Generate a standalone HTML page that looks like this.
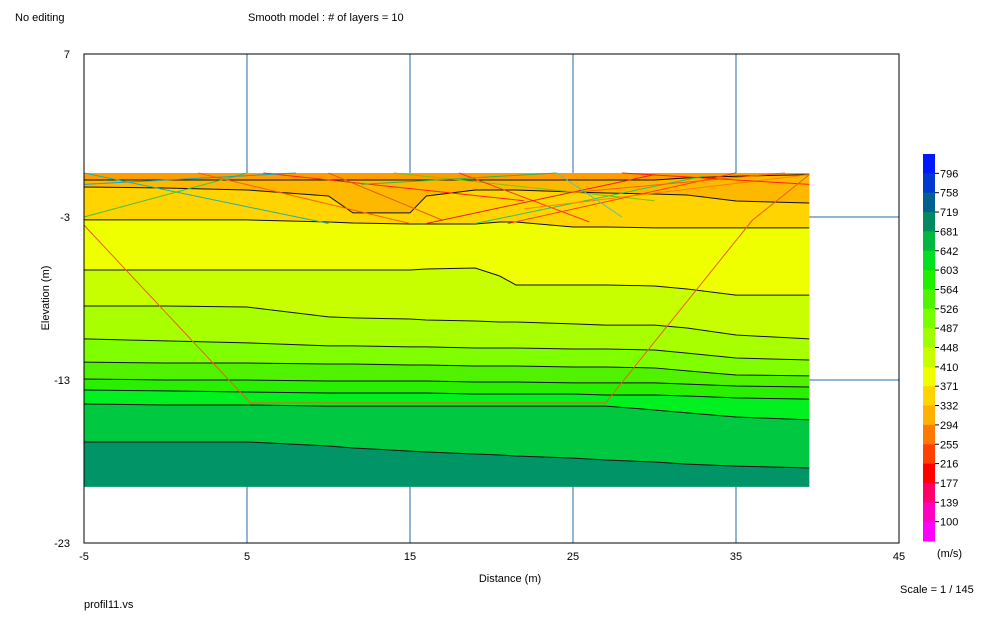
<!DOCTYPE html>
<html><head><meta charset="utf-8"><style>
body{margin:0;background:#fff;width:1003px;height:618px;overflow:hidden;font-family:"Liberation Sans",sans-serif}
svg text{font-family:"Liberation Sans",sans-serif;font-size:11px;fill:#000}
</style></head><body>
<svg id="c" width="1003" height="618" xmlns="http://www.w3.org/2000/svg"></svg>
<script>
const xs=[-5,0,5,10,11.5,15,16,19,20.5,21.5,25,27,30,32,35,39.5];
const boundaries=[
[-0.3,-0.3,-0.3,-0.3,-0.3,-0.3,-0.3,-0.3,-0.3,-0.3,-0.3,-0.3,-0.3,-0.3,-0.3,-0.3],
[-0.73,-0.73,-0.73,-0.73,-0.73,-0.73,-0.73,-0.73,-0.73,-0.73,-0.73,-0.73,-0.73,-0.6,-0.5,-0.4],
[-1.16,-1.22,-1.34,-1.71,-2.75,-2.75,-1.71,-1.34,-1.34,-1.34,-1.47,-1.53,-1.59,-1.65,-2.02,-2.14],
[-3.18,-3.18,-3.18,-3.31,-3.37,-3.43,-3.43,-3.43,-3.31,-3.31,-3.61,-3.61,-3.67,-3.67,-3.67,-3.67],
[-6.25,-6.25,-6.25,-6.25,-6.25,-6.25,-6.19,-6.13,-6.62,-7.17,-7.17,-7.17,-7.23,-7.42,-7.79,-7.79],
[-8.46,-8.46,-8.52,-9.13,-9.19,-9.26,-9.32,-9.38,-9.44,-9.44,-9.56,-9.63,-9.63,-9.81,-10.24,-10.48],
[-10.48,-10.60,-10.72,-10.91,-10.91,-10.97,-10.97,-11.04,-11.04,-11.04,-11.10,-11.10,-11.16,-11.35,-11.65,-11.77],
[-11.90,-11.96,-11.96,-12.02,-12.02,-12.08,-12.08,-12.14,-12.14,-12.14,-12.20,-12.20,-12.26,-12.44,-12.69,-12.75],
[-12.94,-13.0,-13.0,-13.06,-13.06,-13.06,-13.06,-13.12,-13.12,-13.12,-13.18,-13.18,-13.18,-13.25,-13.37,-13.43],
[-13.61,-13.67,-13.74,-13.80,-13.80,-13.80,-13.80,-13.86,-13.86,-13.86,-13.86,-13.92,-13.92,-13.98,-14.10,-14.17],
[-14.47,-14.53,-14.53,-14.60,-14.60,-14.60,-14.60,-14.60,-14.60,-14.60,-14.60,-14.60,-14.84,-15.02,-15.27,-15.45],
[-16.80,-16.80,-16.80,-17.05,-17.17,-17.36,-17.42,-17.54,-17.60,-17.66,-17.79,-17.91,-18.03,-18.16,-18.28,-18.40],
[-19.56,-19.56,-19.56,-19.56,-19.56,-19.56,-19.56,-19.56,-19.56,-19.56,-19.56,-19.56,-19.56,-19.56,-19.56,-19.56]];
const bandColors=["#ff9c00","#ffb800","#ffd400","#f0ff00","#c8ff00","#a8ff00","#80ff00","#50f200","#28f000","#00f020","#00c840","#009466"];
const envX=[-5,5.2,27,36,39.5];
const envY=[-3.5,-14.4,-14.4,-3.2,-0.4];
const rays=[[-5,-0.3,10,-3.4],[5,-0.3,-5,-3],[2,-0.3,15,-3.4],[6,-0.3,22,-2],[10,-0.3,17,-3.2],[14,-0.3,30,-2],[18,-0.3,26,-3.3],[21,-3.4,35,-0.3],[19,-3.4,33,-0.5],[22,-2.5,39.5,-0.4],[16,-3.4,30,-0.4],[24,-0.3,28,-3],[25,-1.5,38,-0.3],[12,-1,24,-0.3],[28,-0.3,39.5,-1],[8,-0.3,-5,-1]];
const rayColors=["#20b0a0","#40c040","#ff6000","#ff2020","#e06000","#80c000","#ff3030","#ff4000","#30c060","#ff8000","#e02020","#50c0c0","#ff6000","#40b040","#ff2000","#20a0b0"];
const xTicks=[-5,5,15,25,35,45];
const yTicks=[7,-3,-13,-23];
const legendLabels=["796","758","719","681","642","603","564","526","487","448","410","371","332","294","255","216","177","139","100"];
const legendColors=["#0018ff","#0038d0","#006090","#008a62","#00b840","#00e020","#20f000","#50f400","#78ff00","#a0ff00","#c8ff00","#f0ff00","#ffd400","#ffb000","#ff7800","#ff4000","#ff0000","#ff0068","#ff00c0","#ff00ff"];

const NS="http://www.w3.org/2000/svg",svg=document.getElementById('c');
const X=v=>84+(v+5)*815/50, Y=v=>54+(7-v)*489/30;
function mk(t,a,p){const e=document.createElementNS(NS,t);for(const k in a)e.setAttribute(k,a[k]);(p||svg).appendChild(e);return e;}
function txt(s,x,y,anchor,name,extra){const e=mk('text',Object.assign({x:x,y:y,'text-anchor':anchor||'start'},extra||{}));e.textContent=s;return e;}
// grid
xTicks.slice(1,-1).forEach(v=>{const l=mk('line',{x1:X(v),x2:X(v),y1:54,y2:543,stroke:'#2a68a8','stroke-width':1});

});
yTicks.slice(1,-1).forEach(v=>{const l=mk('line',{x1:84,x2:899,y1:Y(v),y2:Y(v),stroke:'#2a68a8','stroke-width':1});

});
// bands
for(let i=0;i<bandColors.length;i++){let pts=[];for(let j=0;j<xs.length;j++)pts.push(X(xs[j])+','+Y(boundaries[i][j]));for(let j=xs.length-1;j>=0;j--)pts.push(X(xs[j])+','+Y(boundaries[i+1][j]));
const p=mk('polygon',{points:pts.join(' '),fill:bandColors[i]});

}
for(let i=1;i<boundaries.length-1;i++){const p=mk('polyline',{points:xs.map((x,j)=>X(x)+','+Y(boundaries[i][j])).join(' '),fill:'none',stroke:'#111','stroke-width':1});

}
rays.forEach((r,i)=>{const l=mk('line',{x1:X(r[0]),y1:Y(r[1]),x2:X(r[2]),y2:Y(r[3]),stroke:rayColors[i],'stroke-width':1});

});
const env=mk('polyline',{points:envX.map((x,j)=>X(x)+','+Y(envY[j])).join(' '),fill:'none',stroke:'#e86010','stroke-width':1});


const fr=mk('rect',{x:84,y:54,width:815,height:489,fill:'none',stroke:'#000','stroke-width':1});


xTicks.forEach(v=>txt(String(v),X(v),560,'middle','x-tick-label'));
yTicks.forEach(v=>txt(String(v),70,Y(v)+4,'end','y-tick-label'));
// legend
const h=387/legendColors.length;
legendColors.forEach((c,i)=>{const r=mk('rect',{x:923,y:154+i*h,width:12,height:h+0.5,fill:c});

});
legendLabels.forEach((s,i)=>{mk('line',{x1:935,x2:939,y1:154+(i+1)*h,y2:154+(i+1)*h,stroke:'#000'});txt(s,940,154+(i+1)*h+4,'start','legend-label',{'font-size':'10'});});
txt('(m/s)',937,557,'start','legend-unit');
txt('No editing',15,21,'start','edit-status');
txt('Smooth model : # of layers = 10',248,21,'start','chart-title');
txt('Distance (m)',510,582,'middle','x-axis-title',{'font-size':'12'});
txt('Elevation (m)',49,298,'middle','y-axis-title',{transform:'rotate(-90 49 298)'});
txt('profil11.vs',84,608,'start','file-name',{'font-size':'10'});
txt('Scale = 1 / 145',900,593,'start','scale-label',{'font-size':'10'});
</script>
</body></html>
